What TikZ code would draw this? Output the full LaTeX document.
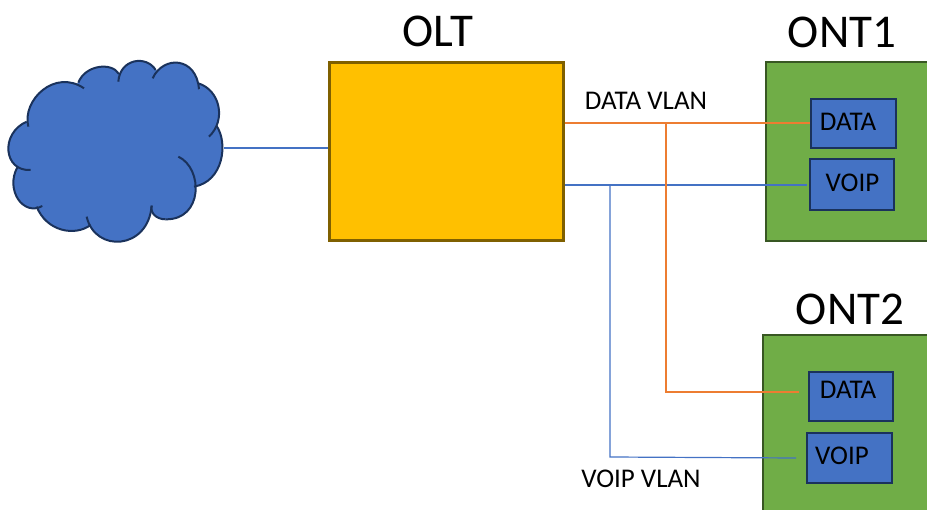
\documentclass[tikz,border=0pt]{standalone}
\usepackage{fontspec}
\setmainfont{Carlito}
\definecolor{cloudblue}{RGB}{68,114,196}
\definecolor{navy}{RGB}{26,50,92}
\definecolor{oltyellow}{RGB}{255,192,0}
\definecolor{oltedge}{RGB}{127,96,0}
\definecolor{ontgreen}{RGB}{112,173,71}
\definecolor{ontedge}{RGB}{56,87,35}
\definecolor{vlanorange}{RGB}{237,125,49}
\tikzset{
  olt/.style={draw=oltedge,fill=oltyellow,line width=2.2pt,minimum width=234pt,minimum height=178pt,inner sep=0pt},
  ont/.style={draw=ontedge,fill=ontgreen,line width=2.4pt,inner sep=0pt},
  port/.style={draw=navy,fill=cloudblue,line width=2.4pt,inner sep=0pt},
  title/.style={font=\fontsize{47}{47}\selectfont,inner sep=0pt},
  tag/.style={font=\fontsize{27}{27}\selectfont,inner sep=0pt},
  datawire/.style={draw=vlanorange,line width=1.2pt},
  voipwire/.style={draw=cloudblue,line width=1.2pt}
}
\begin{document}
\begin{tikzpicture}[x=1pt,y=-1pt]
  \useasboundingbox (0,0) rectangle (927,510);

  % Cloud lobes
  \def\lobes{
    85/230/65/150/165/55/252/115,
    235/98/255/45/335/35/357/72,
    355/95/360/25/440/15/467/60,
    458/85/490/15/590/20/597/118,
    595/100/660/120/680/210/627/260,
    650/228/685/280/670/395/582/410,
    535/320/610/355/610/510/497/508,
    497/508/470/508/450/490/455/467,
    455/467/445/600/285/610/260/500,
    272/525/225/560/140/545/110/470,
    127/468/70/500/15/420/52/352,
    92/360/10/365/0/250/80/215}
  \begin{scope}[shift={(0,50)},x=0.3333pt,y=-0.3333pt]
    \fill[cloudblue] (80,215) -- (235,98) -- (357,72) -- (467,60) -- (597,118) -- (650,228) -- (582,410)
      -- (497,508) -- (455,467) -- (272,525) -- (110,470) -- (52,352) -- cycle
      foreach \ax/\ay/\bx/\by/\cx/\cy/\dx/\dy in \lobes {
        (\ax,\ay) .. controls (\bx,\by) and (\cx,\cy) .. (\dx,\dy) -- cycle
      };
    \foreach \ax/\ay/\bx/\by/\cx/\cy/\dx/\dy in \lobes {
      \draw[navy,line width=2pt] (\ax,\ay) .. controls (\bx,\by) and (\cx,\cy) .. (\dx,\dy);
    }
  \end{scope}

  % Boxes
  \node[olt] (oltbox) at (446.5,151.5) {};
  \node[ont,minimum width=180pt,minimum height=179pt] (ontone) at (856,151.5) {};
  \node[ont,minimum width=190pt,minimum height=200pt] (onttwo) at (858,435) {};
  \node[port,minimum width=85pt,minimum height=49pt] (dataone) at (853.5,123.5) {};
  \node[port,minimum width=84pt,minimum height=51pt] (voipone) at (852,184.5) {};
  \node[port,minimum width=84pt,minimum height=49pt] (datatwo) at (851,396.5) {};
  \node[port,minimum width=85pt,minimum height=50pt] (voiptwo) at (849.5,458) {};

  % Wires
  \coordinate (cloudedge) at (224,148);
  \coordinate (datatee) at (666,123);
  \coordinate (voiptee) at (610,185);
  \coordinate (databend) at (666,392);
  \coordinate (voipbend) at (610,457);
  \coordinate (dataend) at (799,392);
  \coordinate (voipend) at (796,458);
  \coordinate (voipstop) at (807,185);
  \draw[voipwire] (cloudedge) -- (oltbox.west |- cloudedge);
  \draw[datawire] (oltbox.east |- datatee) -- (dataone.west |- datatee);
  \draw[voipwire] (oltbox.east |- voiptee) -- (voipstop);
  \draw[datawire] (datatee) -- (databend) -- (dataend);
  \draw[voipwire] (voiptee) -- (voipbend) -- (voipend);

  % Labels
  \node[title] (olttitle) at (438,31) {OLT};
  \node[title] (onttitleone) at (842,32) {ONT1};
  \node[title] (onttitletwo) at (850,309) {ONT2};
  \node[tag] (datavlan) at (646,101) {DATA VLAN};
  \node[tag] (voipvlan) at (641,479) {VOIP VLAN};
  \node[tag] (datatagone) at (848,122) {DATA};
  \node[tag] (voiptagone) at (852.5,183) {VOIP};
  \node[tag] (datatagtwo) at (848,390) {DATA};
  \node[tag] (voiptagtwo) at (842,456) {VOIP};
\end{tikzpicture}
\end{document}
